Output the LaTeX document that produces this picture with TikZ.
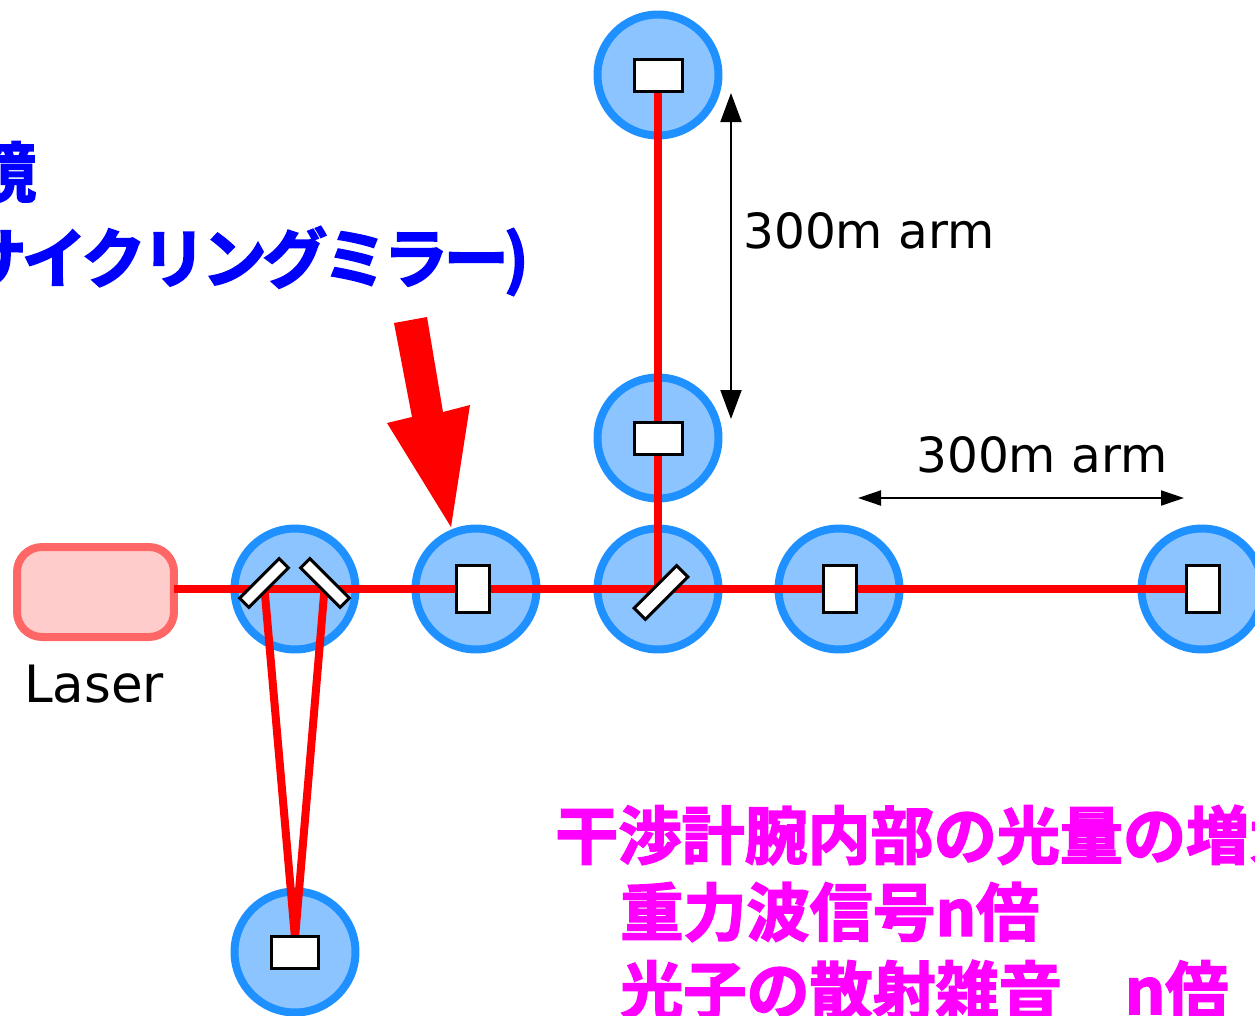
\documentclass[tikz,border=0pt]{standalone}
\usepackage{fontspec}
\usetikzlibrary{arrows.meta}
\setmainfont{DejaVu Sans}
\newfontfamily\jpfont[FakeBold=2.5]{Noto Sans CJK JP Bold}
\newfontfamily\jpkana[FakeBold=2.5,LetterSpace=-7]{Noto Sans CJK JP Bold}
\definecolor{circfill}{HTML}{8CC4FF}
\definecolor{circline}{HTML}{1E90FF}
\definecolor{laserfill}{HTML}{FFCCCC}
\definecolor{laserline}{HTML}{FF6666}
\definecolor{pinktone}{HTML}{FF00FF}
\begin{document}
\begin{tikzpicture}[x=0.02cm,y=-0.02cm]
	\tikzstyle{stage} = [circle, draw=circline, fill=circfill, line width=0.16cm, minimum size=2.42cm, inner sep=0pt]
	\tikzstyle{tallmirror} = [rectangle, draw, fill=white, line width=0.06cm, minimum width=0.66cm, minimum height=0.94cm, inner sep=0pt]
	\tikzstyle{widemirror} = [rectangle, draw, fill=white, line width=0.06cm, minimum width=0.96cm, minimum height=0.64cm, inner sep=0pt]
	\tikzstyle{slantmirror} = [rectangle, draw, fill=white, line width=0.06cm, minimum width=1.12cm, minimum height=0.26cm, inner sep=0pt]
	\tikzstyle{splitmirror} = [slantmirror, minimum width=1.2cm, minimum height=0.32cm]
	\tikzstyle{laserbox} = [rectangle, rounded corners=0.5cm, draw=laserline, fill=laserfill, line width=0.16cm, outer sep=0pt, minimum width=3.14cm, minimum height=1.8cm]
	\tikzstyle{beam} = [red, line width=0.16cm]
	\tikzstyle{spany} = [{Triangle[length=0.58cm,width=0.42cm]}-{Triangle[length=0.58cm,width=0.42cm]}, line width=0.04cm]
	\tikzstyle{spanx} = [{Triangle[length=0.46cm,width=0.3cm]}-{Triangle[length=0.46cm,width=0.3cm]}, line width=0.04cm]
	\tikzstyle{armlabel} = [font=\fontsize{27.6}{32}\selectfont, inner sep=0pt]
	\tikzstyle{bluetext} = [font=\jpkana\fontsize{37}{40}\selectfont, text=blue, inner sep=0pt, anchor=west]
	\tikzstyle{pinktext} = [font=\jpfont\fontsize{35.9}{40}\selectfont, text=pinktone, inner sep=0pt, anchor=west]

	\useasboundingbox (0,0) rectangle (1255,1015);
	\clip (0,0) rectangle (1255,1015);

	%stages
	\foreach \name/\x/\y in {pickoff/295/589, recycling/476/589, splitter/658/589, nearx/839/589, farx/1202/589, neary/658/438, fary/658/75, cleaner/295/952}
		\node[stage] (\name) at (\x,\y) {};

	\node[laserbox] (laser) at (95.5,592) {};
	\node[armlabel, font=\fontsize{29.3}{32}\selectfont] (laserlabel) at (94,684) {Laser};

	\coordinate (mleft) at (264,583);
	\coordinate (mright) at (325,583);
	\coordinate (cleanhit) at (295,938);

	%beams
	\draw[beam] (laser.east |- farx) -- (farx.center);
	\draw[beam] (fary.center) -- (splitter.center);
	\draw[beam] (mleft) -- (cleanhit);
	\draw[beam] (mright) -- (cleanhit);

	%mirrors
	\foreach \name/\x/\y in {mrecycling/473/589, mnearx/839.5/589, mfarx/1202.5/589}
		\node[tallmirror] (\name) at (\x,\y) {};
	\foreach \name/\x/\y in {mfary/658/75, mneary/658/438, mcleaner/295/952}
		\node[widemirror] (\name) at (\x,\y) {};
	\node[splitmirror, rotate=45] (msplitter) at (661,592.5) {};
	\node[slantmirror, rotate=45] (mpickleft) at (mleft) {};
	\node[slantmirror, rotate=-45] (mpickright) at (mright) {};

	%arm lengths
	\coordinate (ytop) at (731,93);
	\coordinate (ybot) at (731,419);
	\coordinate (xleft) at (858,498);
	\coordinate (xright) at (1184,498);
	\draw[spany] (ytop) -- (ybot);
	\draw[spanx] (xleft) -- (xright);
	\node[armlabel] (ylabel) at (869,231) {300m arm};
	\node[armlabel] (xlabel) at (1042,455) {300m arm};

	%big arrow
	\fill[red] (394,323) -- (427,317) -- (443,412) -- (470,405) -- (451,527) -- (387,423) -- (412,417) -- cycle;

	%texts
	\node[bluetext] (mirrorname) at (-29,172) {鏡};
	\node[bluetext] (mirrorkana) at (-39,261) {サイクリングミラー)};
	\node[pinktext] (gainline) at (555,835) {干渉計腕内部の光量の増大};
	\node[pinktext] (signalline) at (620,912) {重力波信号n倍};
	\node[pinktext] (noiseline) at (620,990) {光子の散射雑音　n倍};
\end{tikzpicture}
\end{document}
